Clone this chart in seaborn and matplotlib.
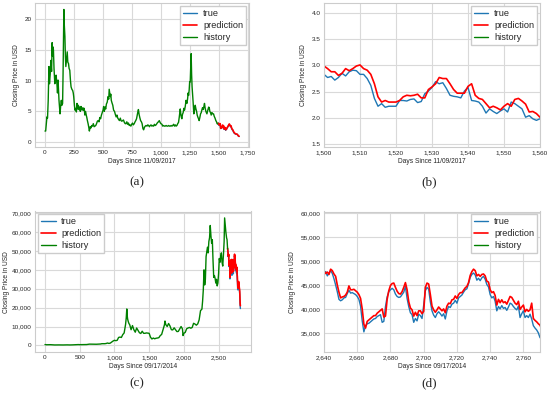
import numpy as np
import matplotlib
matplotlib.use('Agg')
import matplotlib.pyplot as plt
import seaborn as sns
from matplotlib.ticker import FuncFormatter

# ---- EOS-like series (days since 11/09/2017) ----
hist_a_days = [0, 6, 12, 17, 22, 28, 34, 39, 45, 51, 57, 62, 65, 69, 73, 78, 85, 90, 96, 103, 108, 113, 117, 121,
               126, 130, 135, 141, 146, 152, 156, 160, 163, 167, 172, 176, 180, 186, 192, 197, 203, 208, 214, 220,
               225, 232, 239, 244, 248, 254, 259, 266, 271, 276, 282, 288, 294, 299, 305, 311, 316, 321, 327, 333,
               338, 344, 350, 356, 361, 366, 372, 378, 383, 390, 396, 403, 410, 417, 424, 431, 438, 445, 452, 459,
               466, 473, 480, 487, 494, 501, 506, 512, 518, 524, 530, 537, 544, 550, 554, 558, 563, 568, 572, 578,
               585, 592, 600, 607, 614, 621, 628, 635, 642, 650, 656, 663, 670, 677, 685, 692, 699, 706, 713, 720,
               727, 734, 741, 748, 755, 762, 770, 777, 783, 790, 795, 800, 806, 812, 818, 825, 832, 838, 845, 851,
               858, 865, 872, 880, 887, 894, 901, 908, 915, 922, 930, 937, 944, 951, 958, 965, 972, 979, 986, 993,
               1000, 1009, 1016, 1023, 1030, 1037, 1045, 1052, 1060, 1067, 1074, 1081, 1088, 1095, 1102, 1110, 1117,
               1124, 1131, 1138, 1145, 1152, 1158, 1163, 1167, 1172, 1177, 1181, 1186, 1192, 1198, 1204, 1210, 1217,
               1224, 1230, 1235, 1239, 1244, 1248, 1253, 1257, 1261, 1265, 1269, 1273, 1278, 1284, 1290, 1296, 1302,
               1308, 1313, 1320, 1325, 1330, 1336, 1342, 1348, 1353, 1359, 1365, 1371, 1376, 1382, 1388, 1393, 1397,
               1402, 1408, 1412, 1417, 1422, 1428, 1434, 1440, 1447, 1454, 1460, 1467, 1474, 1480, 1485, 1490]
hist_a = [1.8, 1.8, 3.0, 4.1, 3.9, 6.8, 12.3, 9.5, 11.0, 13.3, 11.5, 16.2, 14.0, 15.5, 15.0, 12.0, 9.5, 10.0, 10.9,
          9.5, 8.0, 10.1, 8.5, 6.8, 5.5, 4.6, 5.8, 6.8, 6.0, 6.3, 11.0, 18.0, 21.6, 19.0, 17.2, 14.0, 12.3, 13.5,
          14.7, 13.0, 12.8, 12.0, 11.7, 10.0, 9.0, 8.6, 8.4, 8.0, 7.4, 6.0, 5.2, 5.5, 4.9, 6.3, 5.4, 6.0, 5.3, 5.7,
          5.0, 5.8, 5.4, 5.2, 5.6, 5.2, 5.5, 4.4, 5.0, 4.4, 4.0, 3.5, 3.0, 2.4, 1.8, 2.5, 2.3, 2.7, 2.6, 3.0, 2.5,
          2.6, 2.7, 3.0, 3.4, 3.5, 3.3, 4.0, 3.8, 4.4, 4.8, 5.2, 5.8, 5.0, 5.7, 5.4, 6.2, 6.5, 7.4, 7.0, 8.6, 8.1,
          7.4, 7.8, 6.8, 6.4, 6.0, 5.2, 5.0, 4.5, 4.1, 4.4, 3.9, 3.7, 3.5, 3.9, 3.5, 3.4, 3.5, 3.6, 3.2, 3.0, 3.0,
          3.3, 2.9, 3.1, 2.7, 2.8, 2.6, 2.9, 3.1, 2.8, 3.0, 3.3, 3.5, 3.8, 4.3, 4.8, 5.3, 4.5, 4.0, 3.5, 3.3, 3.0,
          2.2, 2.0, 2.4, 2.6, 2.7, 2.6, 2.8, 2.7, 2.5, 2.7, 2.8, 2.6, 2.7, 2.6, 2.9, 2.7, 2.8, 3.0, 3.2, 3.3, 3.5,
          3.2, 3.0, 2.9, 2.6, 2.7, 2.6, 2.6, 2.7, 2.6, 2.6, 2.7, 2.6, 2.6, 2.7, 2.6, 2.7, 2.9, 2.6, 2.8, 2.6, 2.7,
          3.0, 3.2, 4.0, 4.8, 5.4, 4.5, 4.0, 3.8, 4.5, 4.8, 5.5, 5.2, 5.8, 6.8, 6.3, 7.0, 8.0, 7.6, 8.5, 9.8, 9.8,
          12.0, 14.4, 11.0, 9.0, 7.9, 6.5, 4.6, 5.2, 6.0, 5.4, 5.0, 4.4, 4.0, 3.8, 3.5, 4.0, 4.6, 4.8, 5.2, 5.6,
          5.3, 5.8, 6.3, 5.5, 5.0, 4.8, 4.6, 5.0, 5.4, 5.7, 5.6, 5.0, 4.8, 4.4, 4.8, 4.6, 4.6, 4.2, 3.9, 3.5, 3.3,
          3.0, 3.0]

# test window: head, daily part (panel b), tail
test_a_head_days = [1490, 1493, 1496, 1499]
true_a_head = [3.0, 2.9, 3.1, 2.85]
pred_a_head = [3.05, 3.0, 3.05, 2.95]

days_b = list(range(1500, 1561))
true_b = [2.83, 2.77, 2.79, 2.72, 2.77, 2.85, 2.80, 2.88, 2.91, 2.90, 2.83, 2.83, 2.75, 2.62, 2.37, 2.22, 2.27,
          2.20, 2.22, 2.22, 2.22, 2.33, 2.33, 2.32, 2.35, 2.36, 2.29, 2.31, 2.46, 2.51, 2.58, 2.69, 2.65, 2.67,
          2.56, 2.43, 2.41, 2.40, 2.38, 2.51, 2.58, 2.33, 2.32, 2.30, 2.22, 2.09, 2.17, 2.12, 2.08, 2.13, 2.17,
          2.11, 2.30, 2.27, 2.22, 2.17, 2.01, 2.04, 1.98, 1.95, 1.98]
pred_b = [2.99, 2.94, 2.88, 2.88, 2.81, 2.85, 2.94, 2.90, 2.94, 2.99, 3.01, 2.94, 2.91, 2.83, 2.65, 2.40, 2.30,
          2.33, 2.30, 2.30, 2.30, 2.33, 2.40, 2.43, 2.42, 2.43, 2.45, 2.38, 2.38, 2.54, 2.59, 2.65, 2.77, 2.75,
          2.75, 2.65, 2.54, 2.47, 2.47, 2.47, 2.60, 2.65, 2.43, 2.37, 2.35, 2.27, 2.19, 2.22, 2.19, 2.15, 2.22,
          2.27, 2.22, 2.35, 2.37, 2.32, 2.26, 2.11, 2.12, 2.08, 2.01]

test_a_tail_days = [1565, 1570, 1575, 1580, 1585, 1590, 1595, 1600, 1605, 1610, 1615, 1620, 1625, 1630, 1635,
                    1640, 1645, 1650, 1655, 1660, 1665, 1670, 1675]
true_a_tail = [2.05, 2.25, 2.4, 2.6, 2.75, 2.9, 2.7, 2.5, 2.6, 2.2, 2.0, 1.95, 1.7, 1.5, 1.4, 1.35, 1.3, 1.25,
               1.3, 1.2, 1.05, 0.95, 0.9]
pred_a_tail = [2.1, 2.3, 2.45, 2.6, 2.8, 2.95, 2.8, 2.6, 2.65, 2.3, 2.1, 2.0, 1.8, 1.6, 1.5, 1.4, 1.35, 1.3,
               1.3, 1.25, 1.1, 1.0, 0.95]

# ---- BTC series (days since 09/17/2014) ----
hist_c_days = [0, 20, 40, 60, 80, 100, 120, 140, 160, 180, 200, 220, 240, 260, 280, 300, 320, 340, 360, 380, 400,
               420, 440, 460, 480, 500, 520, 540, 560, 580, 600, 620, 640, 660, 680, 700, 720, 740, 760, 780, 800,
               820, 840, 860, 880, 900, 920, 940, 960, 980, 1000, 1020, 1040, 1060, 1080, 1100, 1120, 1140, 1160,
               1170, 1178, 1185, 1190, 1200, 1210, 1220, 1240, 1260, 1280, 1300, 1320, 1340, 1360, 1380, 1400, 1420,
               1440, 1460, 1480, 1500, 1520, 1540, 1560, 1580, 1600, 1620, 1640, 1660, 1680, 1700, 1720, 1728,
               1740, 1760, 1780, 1800, 1820, 1840, 1860, 1880, 1900, 1920, 1940, 1960, 1980, 1988, 2000, 2020,
               2040, 2060, 2080, 2100, 2120, 2140, 2160, 2180, 2200, 2220, 2240, 2260, 2270, 2280, 2290, 2300,
               2310, 2320, 2340, 2350, 2360, 2370, 2380, 2390, 2400, 2410, 2420, 2430, 2440, 2450, 2460, 2470,
               2480, 2490, 2500, 2510, 2520, 2530, 2540, 2550, 2560, 2570, 2580, 2587, 2595, 2605, 2615, 2622, 2630]
hist_c = [457, 340, 355, 375, 375, 320, 210, 230, 255, 280, 255, 230, 235, 225, 245, 280, 280, 230, 235, 240, 285,
          330, 400, 430, 430, 380, 400, 410, 420, 440, 450, 580, 670, 650, 590, 580, 610, 610, 650, 710, 740,
          900, 900, 900, 1000, 1250, 1040, 1200, 1750, 2300, 2700, 2500, 2700, 4200, 4400, 4200, 5700, 6600,
          11000, 14500, 19300, 15500, 14000, 12500, 11500, 11000, 8300, 10500, 8300, 7000, 9200, 8000, 6700,
          6300, 7500, 6400, 6400, 6600, 6500, 6400, 4300, 3400, 3900, 3500, 3800, 3900, 4100, 5200, 5800, 8200,
          10800, 12900, 11000, 10000, 11600, 10300, 8300, 8200, 9300, 8300, 7300, 7400, 8700, 10000, 8700, 5200,
          6400, 6900, 8800, 9200, 9500, 9100, 9500, 11700, 11300, 10700, 11400, 13500, 18400, 19200, 23500,
          29400, 40000, 32000, 35000, 47000, 52000, 49000, 55000, 57000, 63500, 58000, 54000, 56000, 45000,
          36000, 37000, 35500, 33000, 35000, 31500, 33000, 38000, 46000, 44000, 47000, 49000, 44000, 42000,
          48000, 55000, 67500, 64000, 60000, 57000, 56000, 51000]

test_c_head_days = [2630, 2632, 2634, 2636, 2638]
true_c_head = [51000, 50200, 49000, 48500, 47600]
pred_c_head = [51400, 51000, 50000, 49200, 48300]

days_d = list(range(2640, 2771))
true_d = [47.1, 47.8, 46.9, 47.5, 48.0, 47.4, 46.3, 45.0, 43.6, 42.0, 41.7, 41.9, 42.3, 42.4, 43.2, 43.9, 43.3,
          43.4, 43.2, 43.0, 42.6, 42.0, 40.6, 37.5, 35.2, 36.5, 36.9, 37.0, 37.3, 37.6, 37.9, 38.0, 38.4, 38.6,
          38.8, 37.2, 37.4, 40.5, 42.5, 43.6, 44.0, 44.3, 44.0, 43.1, 42.6, 42.4, 42.5, 43.0, 43.5, 44.7, 42.2,
          40.5, 39.2, 38.8, 37.2, 38.0, 37.5, 38.9, 38.6, 38.0, 40.8, 43.8, 44.5, 44.1, 41.5, 39.6, 38.7, 38.2,
          39.0, 39.4, 39.0, 38.5, 39.0, 37.9, 39.6, 40.5, 40.3, 41.0, 41.2, 41.8, 41.2, 42.3, 42.6, 42.9, 43.5,
          44.0, 44.2, 45.3, 46.6, 47.2, 47.5, 47.1, 46.0, 46.4, 45.9, 46.5, 46.8, 46.2, 45.1, 44.6, 43.0, 42.3,
          42.6, 41.6, 39.6, 40.5, 40.0, 40.7, 40.1, 40.3, 39.7, 40.4, 41.2, 41.0, 40.5, 40.1, 39.8, 40.6, 38.2,
          39.0, 39.6, 38.2, 38.6, 38.2, 38.9, 37.9, 36.5, 36.0, 35.6, 35.0, 34.0]
pred_d = [47.9, 47.4, 47.7, 47.2, 48.3, 48.0, 47.3, 46.8, 45.0, 43.5, 42.3, 42.5, 42.6, 42.9, 43.5, 44.8, 44.0,
          44.0, 44.1, 43.8, 43.5, 43.0, 42.2, 40.0, 36.8, 36.0, 37.4, 37.7, 38.0, 38.3, 38.6, 38.6, 39.1, 39.4,
          39.7, 40.0, 38.3, 38.5, 42.0, 43.8, 44.9, 45.3, 45.4, 44.5, 43.7, 43.2, 43.1, 43.6, 44.5, 45.5, 44.0,
          41.5, 40.2, 39.8, 38.5, 39.3, 38.6, 39.6, 39.6, 39.0, 39.5, 44.5, 45.4, 45.2, 43.0, 40.6, 39.8, 39.3,
          39.8, 40.4, 40.0, 39.6, 40.0, 39.2, 40.6, 41.2, 41.1, 41.9, 42.0, 42.7, 42.2, 43.0, 43.4, 43.4, 43.9,
          44.4, 44.7, 45.5, 47.0, 47.8, 48.3, 48.0, 46.9, 47.2, 46.8, 47.2, 47.3, 46.9, 45.8, 45.6, 44.0, 43.4,
          43.6, 42.8, 40.8, 42.0, 41.3, 41.9, 41.3, 41.5, 41.0, 41.8, 42.6, 42.4, 41.8, 41.2, 40.9, 41.6, 39.9,
          40.4, 40.8, 39.4, 39.9, 39.5, 39.8, 41.2, 38.0, 37.6, 37.3, 36.9, 36.6]

test_c_tail_days = [2772, 2775, 2778, 2781, 2784, 2787, 2790, 2793, 2796, 2799, 2802, 2805, 2808, 2811, 2814]
true_c_tail = [33500, 29500, 30000, 29500, 31000, 33000, 32500, 31500, 29500, 29800, 28500, 27000, 22500,
               20500, 19500]
pred_c_tail = [35000, 31500, 30500, 30300, 31500, 33500, 33800, 32500, 30800, 30400, 29800, 28500, 25000,
               22000, 21000]

# ---- assemble ----
eos_days = test_a_head_days + days_b + test_a_tail_days
eos_true = true_a_head + true_b + true_a_tail
eos_pred = pred_a_head + pred_b + pred_a_tail
btc_days = test_c_head_days + days_d + test_c_tail_days
btc_true = true_c_head + [v * 1000 for v in true_d] + true_c_tail
btc_pred = pred_c_head + [v * 1000 for v in pred_d] + pred_c_tail

sns.set_theme(style='whitegrid')
plt.rcParams['font.family'] = ['Liberation Sans', 'DejaVu Sans']

fig = plt.figure(figsize=(5.5, 3.99), dpi=100)
W, H = 550.0, 399.0


def make_ax(l, t, r, b):
    return fig.add_axes([l / W, 1 - b / H, (r - l) / W, (b - t) / H])


comma = FuncFormatter(lambda v, p: f'{v:,.0f}')


def draw(ax, hd, hv, td, tv, pv, xlabel, loc):
    sns.lineplot(x=td, y=tv, ax=ax, color='#1f77b4', lw=1.0, label='true')
    sns.lineplot(x=td, y=pv, ax=ax, color='red', lw=1.2, label='prediction')
    sns.lineplot(x=hd, y=hv, ax=ax, color='green', lw=1.0, label='history')
    ax.set_xlabel(xlabel, fontsize=4.8, labelpad=2, color='.15')
    ax.set_ylabel('Closing Price in USD', fontsize=4.8, labelpad=3, color='.15')
    ax.tick_params(labelsize=4.6, pad=2.5, length=0, colors='.15')
    for s in ax.spines.values():
        s.set_color('.8')
        s.set_linewidth(0.8)
    ax.grid(color='.85', lw=0.8)
    ax.legend(loc=loc, fontsize=6.6, handlelength=1.6, borderpad=0.35, labelspacing=0.3,
              handletextpad=0.6, borderaxespad=0.3, fancybox=False, edgecolor='.8', framealpha=1)


ax_a = make_ax(35, 3.3, 249, 147)
draw(ax_a, hist_a_days, hist_a, eos_days, eos_true, eos_pred, 'Days Since 11/09/2017', 'upper right')
ax_a.set_xlim(-86, 1760)
ax_a.set_ylim(-0.8, 22.6)
ax_a.set_xticks(range(0, 1751, 250))
ax_a.set_yticks([0, 5, 10, 15, 20])
ax_a.xaxis.set_major_formatter(comma)

ax_b = make_ax(324, 3.3, 540, 147)
draw(ax_b, hist_a_days, hist_a, eos_days, eos_true, eos_pred, 'Days Since 11/09/2017', 'upper right')
ax_b.set_xlim(1500, 1560)
ax_b.set_ylim(1.44, 4.19)
ax_b.set_xticks(range(1500, 1561, 10))
ax_b.set_yticks([1.5, 2.0, 2.5, 3.0, 3.5, 4.0])
ax_b.xaxis.set_major_formatter(comma)
ax_b.yaxis.set_major_formatter(FuncFormatter(lambda v, p: f'{v:.1f}'))

ax_c = make_ax(35, 211.5, 251, 352)
draw(ax_c, hist_c_days, hist_c, btc_days, btc_true, btc_pred, 'Days Since 09/17/2014', 'upper left')
ax_c.set_xlim(-144, 2967)
ax_c.set_ylim(-3500, 70900)
ax_c.set_xticks(range(0, 2501, 500))
ax_c.set_yticks(range(0, 70001, 10000))
ax_c.xaxis.set_major_formatter(comma)
ax_c.yaxis.set_major_formatter(comma)
ax_c.yaxis.labelpad = 1.5

ax_d = make_ax(324, 211.5, 540, 352)
draw(ax_d, hist_c_days, hist_c, btc_days, btc_true, btc_pred, 'Days Since 09/17/2014', 'upper right')
ax_d.set_xlim(2640, 2770)
ax_d.set_ylim(31000, 60350)
ax_d.set_xticks(range(2640, 2761, 20))
ax_d.set_yticks(range(35000, 60001, 5000))
ax_d.xaxis.set_major_formatter(comma)
ax_d.yaxis.set_major_formatter(comma)

for lab, x, y in [('(a)', 137, 182), ('(b)', 429, 182), ('(c)', 137, 383), ('(d)', 429, 383)]:
    fig.text(x / W, 1 - y / H, lab, ha='center', va='center', fontsize=9.5,
             family=['Liberation Serif', 'DejaVu Serif'])

fig.savefig('out.png', dpi=100)
